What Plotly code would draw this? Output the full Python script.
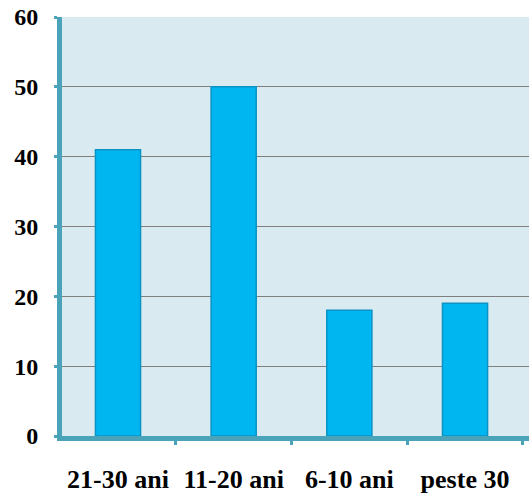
import plotly.graph_objects as go

categories = ["21-30 ani", "11-20 ani", "6-10 ani", "peste 30"]
values = [41, 50, 18, 19]
y_ticks = [0, 10, 20, 30, 40, 50, 60]

fig = go.Figure()
fig.add_trace(go.Bar(
    x=categories, y=values, width=0.39,
    marker=dict(color="#00b6f1", line=dict(color="#0a93c4", width=1.5)),
))

fig.update_layout(
    width=529, height=494,
    margin=dict(l=62, r=0, t=17, b=58),
    paper_bgcolor="#ffffff",
    plot_bgcolor="#daeaf1",
    showlegend=False,
    xaxis=dict(
        type="category", range=[-0.484, 3.553],
        showgrid=False, zeroline=False,
        showline=True, linewidth=5, linecolor="#4aa3b8",
        ticks="outside", tickson="boundaries", ticklen=4, tickwidth=3, tickcolor="#4aa3b8",
        tickfont=dict(family="Liberation Serif, Times New Roman, serif", size=26,
                      color="#000000", weight=700),
        ticklabelstandoff=16,
    ),
    yaxis=dict(
        range=[0, 60], tickvals=y_ticks,
        showgrid=True, gridcolor="#7f7f7f", gridwidth=1,
        zeroline=False,
        showline=True, linewidth=5, linecolor="#4aa3b8",
        ticks="outside", ticklen=3, tickwidth=3, tickcolor="#4aa3b8",
        tickfont=dict(family="Liberation Serif, Times New Roman, serif", size=24,
                      color="#000000", weight=700),
        ticklabelstandoff=11,
    ),
)

fig.write_html("out.html", config={"displayModeBar": False},
               post_script="document.body.style.margin='0';")
